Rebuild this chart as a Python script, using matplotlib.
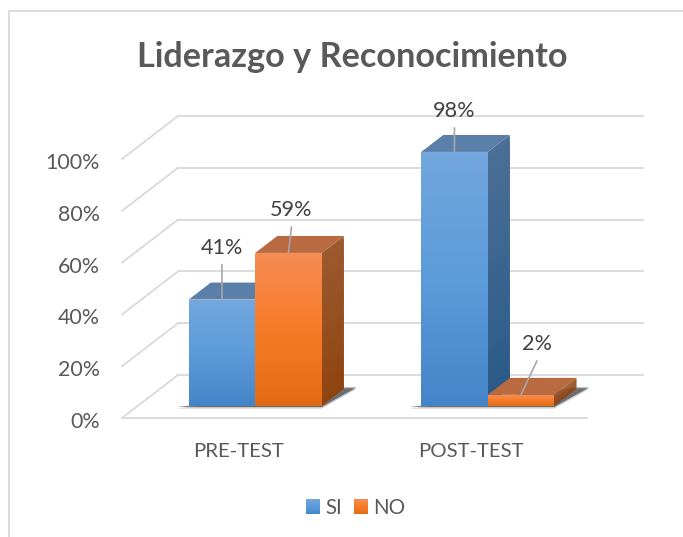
import matplotlib
matplotlib.use("Agg")
import matplotlib.pyplot as plt
import numpy as np
from matplotlib.colors import to_rgb
from matplotlib.legend_handler import HandlerBase
from matplotlib.patches import Polygon, Rectangle
from matplotlib.lines import Line2D
from matplotlib.transforms import ScaledTranslation

TITLE = "Liderazgo y Reconocimiento"
CATEGORIES = ["PRE-TEST", "POST-TEST"]
SERIES = ["SI", "NO"]
SI_VALUES = [41, 98]
NO_VALUES = [59, 2]
Y_TICKS = [0, 20, 40, 60, 80, 100]

W, H = 683, 537
PX_X = 232.5          # pixels per category
PX_Y = 2.59           # pixels per percentage point
DEPTH_X = 56 / PX_X   # oblique floor depth in x units
DEPTH_Y = 43 / PX_Y   # oblique floor depth in value units
BAR_W = 66.5 / PX_X
BAR_SHIFT = 1 / PX_X
D_FRONT, D_BACK = 0.285, 0.68
MIN_VISIBLE = 4.2     # shallowest bar the 3-D rendering shows

GRID = "#D9D9D9"
TEXT = "#595959"
FONT = "Lato"
STYLES = {
    "SI": dict(front=["#72A6DD", "#5B9BD9", "#4484C8"], side=["#4B6F96", "#2A5A88"], top="#5A7FA8"),
    "NO": dict(front=["#F58C54", "#F67B28", "#E36A14"], side=["#9C5A30", "#8F4410"], top="#B96A40"),
}
LABEL_OFFSETS = {("SI", 0): (0, 35), ("NO", 0): (3, 26), ("SI", 1): (0, 24), ("NO", 1): (16, 34)}

plt.rcParams["font.family"] = [FONT, "DejaVu Sans"]
fig = plt.figure(figsize=(W / 100, H / 100), dpi=100)
ax = fig.add_axes([122 / W, 1 - 418 / H, 465 / W, 259 / H])
ax.set_xlim(-0.5, 1.5)
ax.set_ylim(0, 100)
for s in ax.spines.values():
    s.set_visible(False)
ax.patch.set_visible(False)


def proj(x, v, d):
    return (x + d * DEPTH_X, v + d * DEPTH_Y)


def ramp(stops, t):
    stops = np.array([to_rgb(c) for c in stops])
    pos = np.linspace(0, 1, len(stops))
    return tuple(np.interp(t, pos, stops[:, i]) for i in range(3))


def face(x0, d0, x1, d1, v_hi, stops, n=50, z=3):
    edges = np.linspace(v_hi, 0, n + 1)
    for i in range(n):
        t = (i + 0.5) / n
        lo = edges[min(i + 2, n)]
        pts = [proj(x0, edges[i], d0), proj(x1, edges[i], d1), proj(x1, lo, d1), proj(x0, lo, d0)]
        ax.add_patch(Polygon(pts, closed=True, fc=ramp(stops, t), ec="none", lw=0, zorder=z, clip_on=False))


# frame of the chart area (top and left edges)
fig.add_artist(Line2D([9 / W, 9 / W, 1], [0, 1 - 11 / H, 1 - 11 / H], color=GRID, lw=1.3))

# gridlines: floor edge, side wall and back wall
for t in Y_TICKS:
    a, b = proj(-0.5, t, 0), proj(-0.5, t, 1)
    ax.plot([a[0], b[0]], [a[1], b[1]], color=GRID, lw=1.3, zorder=1, clip_on=False)
    c = proj(1.5, t, 1)
    ax.plot([b[0], c[0]], [b[1], c[1]], color=GRID, lw=1.3, zorder=1, clip_on=False)
ax.plot([-0.5, 1.5], [0, 0], color=GRID, lw=1.3, zorder=1, clip_on=False)

# bars
for ci in range(len(CATEGORIES)):
    left = ci + BAR_SHIFT - BAR_W
    right = ci + BAR_SHIFT + BAR_W
    # cast shadow on the floor
    sh = [proj(left - 12 / PX_X, -0.5, D_FRONT), proj(right, -0.5, D_FRONT),
          proj(right + 11 / PX_X, 0, D_BACK + 0.03), proj(right, 0, D_BACK + 0.03)]
    for grow, alpha in ((1.5, 0.25), (0.0, 0.6)):
        pts = [(p[0], p[1] - grow / PX_Y) for p in sh]
        ax.add_patch(Polygon(pts, closed=True, fc="#303030", ec="none", alpha=alpha, zorder=2, clip_on=False))
    for si, (name, vals) in enumerate(zip(SERIES, (SI_VALUES, NO_VALUES))):
        st = STYLES[name]
        v = max(vals[ci], MIN_VISIBLE)
        x0 = left + si * BAR_W
        x1 = x0 + BAR_W
        z = 3 + si
        face(x1, D_FRONT, x1, D_BACK, v, st["side"], z=z)
        top = [proj(x0, v, D_FRONT), proj(x1, v, D_FRONT), proj(x1, v, D_BACK), proj(x0, v, D_BACK)]
        ax.add_patch(Polygon(top, closed=True, fc=st["top"], ec="none", zorder=z, clip_on=False))
        face(x0, D_FRONT, x1, D_FRONT, v, st["front"], z=z)
        # leader and value label
        xy = proj((x0 + x1) / 2, v, D_FRONT)
        dx, dy = LABEL_OFFSETS[(name, ci)]
        ax.annotate("", xy=xy, xytext=(dx, dy), textcoords="offset pixels",
                    arrowprops=dict(arrowstyle="-", color="#A6A6A6", lw=1.2, shrinkA=0, shrinkB=0),
                    zorder=8, annotation_clip=False)
        ax.annotate(f"{vals[ci]}%", xy=xy, xytext=(dx, dy + 17), textcoords="offset pixels",
                    ha="center", va="center", fontsize=15.6, color="#404040", zorder=9,
                    annotation_clip=False)

ax.set_yticks(Y_TICKS, [f"{t}%" for t in Y_TICKS])
ax.set_xticks(range(len(CATEGORIES)), CATEGORIES)
ax.tick_params(axis="y", length=0, pad=16, labelsize=15.4, labelcolor=TEXT)
ax.tick_params(axis="x", length=0, pad=18, labelsize=14.7, labelcolor=TEXT)
down = ScaledTranslation(0, -2 / 100, fig.dpi_scale_trans)
for lab in ax.get_yticklabels():
    lab.set_transform(lab.get_transform() + down)

fig.text(352 / W, 1 - 57 / H, TITLE, ha="center", va="center", fontsize=24.7, fontweight="bold", color=TEXT)


class GradientHandler(HandlerBase):
    def create_artists(self, legend, orig, xd, yd, width, height, fontsize, trans):
        stops = orig.get_gid().split(",")
        out = []
        n = 14
        for i in range(n):
            y = -yd + height * (1 - (i + 1) / n)
            r = Rectangle((-xd, y), width, height / n * 1.3, fc=ramp(stops, (i + .5) / n), ec="none", lw=0)
            r.set_transform(trans)
            out.append(r)
        return out


handles = []
for name in SERIES:
    p = Rectangle((0, 0), 1, 1)
    p.set_gid(",".join(STYLES[name]["front"]))
    handles.append(p)
fs = 14.8
leg = fig.legend(handles, SERIES, loc="center", bbox_to_anchor=(356 / W, 1 - 508 / H), ncol=2, frameon=False,
                 handler_map={Rectangle: GradientHandler()}, fontsize=fs, labelcolor=TEXT,
                 handlelength=14 / (fs * 100 / 72), handleheight=14 / (fs * 100 / 72),
                 handletextpad=0.25, columnspacing=0.6, borderpad=0, borderaxespad=0)

fig.savefig("out.png", dpi=100)
